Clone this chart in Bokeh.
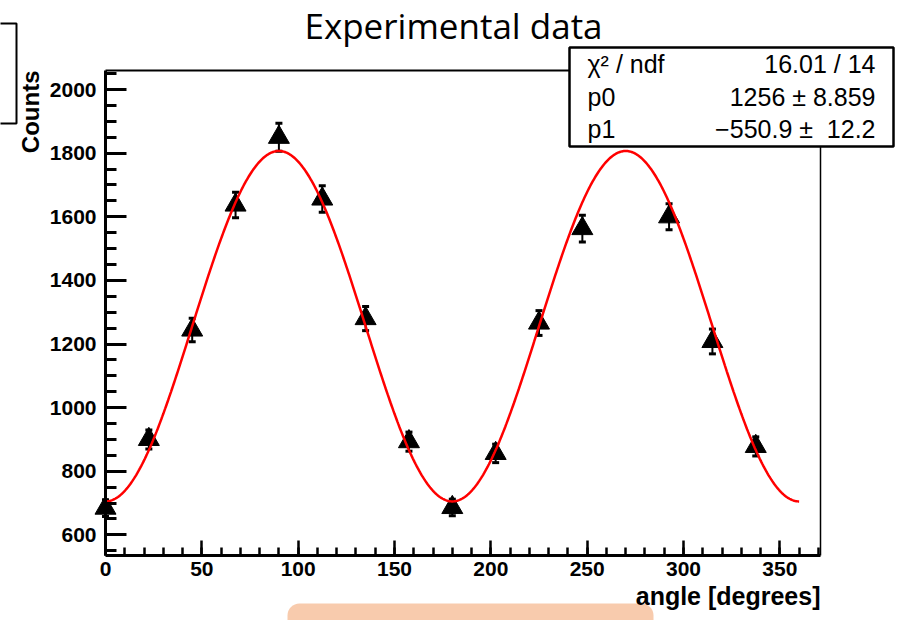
import numpy as np
from bokeh.plotting import figure
from bokeh.models import (Range1d, LinearAxis, Label, BoxAnnotation,
                          SingleIntervalTicker, FixedTicker)
from bokeh.embed import file_html
from bokeh.resources import INLINE

# ---- data ----
angles = [0, 22.5, 45, 67.5, 90, 112.5, 135, 157.5, 180, 202.5, 225, 247.5, 292.5, 315, 337.5]
counts = [684, 900, 1244, 1637, 1850, 1656, 1280, 893, 686, 856, 1266, 1563, 1600, 1208, 878]
errors = [26, 30, 37, 40, 44, 42, 38, 30, 26, 29, 39, 42, 41, 39, 30]

# fit parameters shown in the stats box (fit: p0 + p1*cos(2*angle))
p0 = 1256.0
p1 = -550.9

stats_names = ["χ² / ndf", "p0", "p1"]
stats_values = ["16.01 / 14", "1256 ± 8.859", "−550.9 ±\u00a0\u00a012.2"]

title_text = "Experimental data"
x_title = "angle [degrees]"
y_title = "Counts"

# axis extents of the plotted area
X_LIM = (0, 371.1)
Y_LIM = (535, 2060)

# ---- layout (pixels) ----
W, H = 897, 620
F_LEFT, F_RIGHT, F_TOP, F_BOTTOM = 105, 820, 70, 555
xs = (F_RIGHT - F_LEFT) / (X_LIM[1] - X_LIM[0])
ys = (F_BOTTOM - F_TOP) / (Y_LIM[1] - Y_LIM[0])
x_range = Range1d(X_LIM[0] - F_LEFT / xs, X_LIM[1] + (W - F_RIGHT) / xs)
y_range = Range1d(Y_LIM[0] - (H - F_BOTTOM) / ys, Y_LIM[1] + F_TOP / ys)

# fit curve evaluated from the fit function
fit_x = np.linspace(0, 360, 721)
fit_y = p0 + p1 * np.cos(np.radians(2 * fit_x))

err_lo = [c - e for c, e in zip(counts, errors)]
err_hi = [c + e for c, e in zip(counts, errors)]

p = figure(width=W, height=H, x_range=x_range, y_range=y_range,
           output_backend="svg", toolbar_location=None,
           x_axis_location=None, y_axis_location=None,
           min_border=0, outline_line_color=None,
           background_fill_color="white", border_fill_color="white")
p.grid.visible = False

FONT = "Liberation Sans"

xa = LinearAxis(fixed_location=Y_LIM[0], bounds=X_LIM,
                ticker=SingleIntervalTicker(interval=50, num_minor_ticks=5))
xa.axis_line_width = 3
xa.axis_line_color = "black"
xa.major_tick_in = 15
xa.major_tick_out = 0
xa.minor_tick_in = 8
xa.minor_tick_out = 0
xa.major_tick_line_width = 2.5
xa.minor_tick_line_width = 2.5
xa.major_tick_line_color = "black"
xa.minor_tick_line_color = "black"
xa.major_label_text_font = FONT
xa.major_label_text_font_size = "21px"
xa.major_label_text_font_style = "bold"
xa.major_label_text_color = "black"
xa.major_label_standoff = 6
p.add_layout(xa, "below")

ya = LinearAxis(fixed_location=X_LIM[0], bounds=Y_LIM,
                ticker=SingleIntervalTicker(interval=200, num_minor_ticks=4))
ya.axis_line_width = 3
ya.axis_line_color = "black"
ya.major_tick_in = 21
ya.major_tick_out = 0
ya.minor_tick_in = 11
ya.minor_tick_out = 0
ya.major_tick_line_width = 3
ya.minor_tick_line_width = 3
ya.major_tick_line_color = "black"
ya.minor_tick_line_color = "black"
ya.major_label_text_font = FONT
ya.major_label_text_font_size = "21px"
ya.major_label_text_font_style = "bold"
ya.major_label_text_color = "black"
ya.major_label_standoff = 9
p.add_layout(ya, "left")

# top and right frame lines
top_ax = LinearAxis(fixed_location=Y_LIM[1], bounds=X_LIM,
                    ticker=FixedTicker(ticks=[], minor_ticks=[]),
                    axis_line_width=2, axis_line_color="black",
                    major_tick_in=0, major_tick_out=0, minor_tick_in=0, minor_tick_out=0,
                    major_label_text_font_size="0px")
p.add_layout(top_ax, "above")
right_ax = LinearAxis(fixed_location=X_LIM[1], bounds=Y_LIM,
                      ticker=FixedTicker(ticks=[], minor_ticks=[]),
                      axis_line_width=1.5, axis_line_color="black",
                      major_tick_in=0, major_tick_out=0, minor_tick_in=0, minor_tick_out=0,
                      major_label_text_font_size="0px")
p.add_layout(right_ax, "right")

# error bars, markers, fit
p.segment(angles, err_lo, angles, err_hi, line_color="black", line_width=2)
p.scatter(angles, err_lo, marker="dash", size=7, line_width=3, line_color="black")
p.scatter(angles, err_hi, marker="dash", size=7, line_width=3, line_color="black")
p.scatter(angles, counts, marker="triangle", size=21,
          fill_color="black", line_color="black")
p.line(fit_x, fit_y, line_color="#ff0000", line_width=2.5)

# page px -> screen units (frame covers whole canvas, origin bottom-left)
def sx(px):
    return px
def sy(py):
    return H - py

def box(l, r, t, b, **kw):
    return BoxAnnotation(left=sx(l), right=sx(r), top=sy(t), bottom=sy(b),
                         left_units="screen", right_units="screen",
                         top_units="screen", bottom_units="screen", **kw)

# slide decorations
p.add_layout(box(287, 653, 603, 660, fill_color="#F8CBAD", fill_alpha=1.0,
                 line_color=None, border_radius=12, level="underlay"))
p.add_layout(box(-60, 16, 23, 123, fill_alpha=0.0, line_color="black",
                 line_alpha=1.0, line_width=2))

# title
p.add_layout(Label(x=sx(453), y=sy(25), x_units="screen", y_units="screen",
                   text=title_text, text_font="Open Sans", text_font_size="35px",
                   text_align="center", text_baseline="alphabetic", text_color="black"))

# axis titles
p.add_layout(Label(x=sx(30), y=sy(F_TOP), x_units="screen", y_units="screen",
                   text=y_title, angle=np.pi / 2, text_font=FONT,
                   text_font_size="24px", text_font_style="bold",
                   text_align="right", text_baseline="alphabetic", text_color="black"))
p.add_layout(Label(x=sx(F_RIGHT), y=sy(595), x_units="screen", y_units="screen",
                   text=x_title, text_font=FONT,
                   text_font_size="25px", text_font_style="bold",
                   text_align="right", text_baseline="alphabetic", text_color="black"))

# stats box
p.add_layout(box(569, 893, 47, 146, fill_color="white", fill_alpha=1.0,
                 line_color="black", line_alpha=1.0, line_width=2.5))
row_base = [63, 96, 128]
for name, val, yb in zip(stats_names, stats_values, row_base):
    p.add_layout(Label(x=sx(587), y=sy(yb), x_units="screen", y_units="screen",
                       text=name, text_font=FONT, text_font_size="25px",
                       text_align="left", text_baseline="alphabetic", text_color="black"))
    p.add_layout(Label(x=sx(875), y=sy(yb), x_units="screen", y_units="screen",
                       text=val, text_font=FONT, text_font_size="25px",
                       text_align="right", text_baseline="alphabetic", text_color="black"))

open("out.html", "w").write(file_html(p, INLINE))
